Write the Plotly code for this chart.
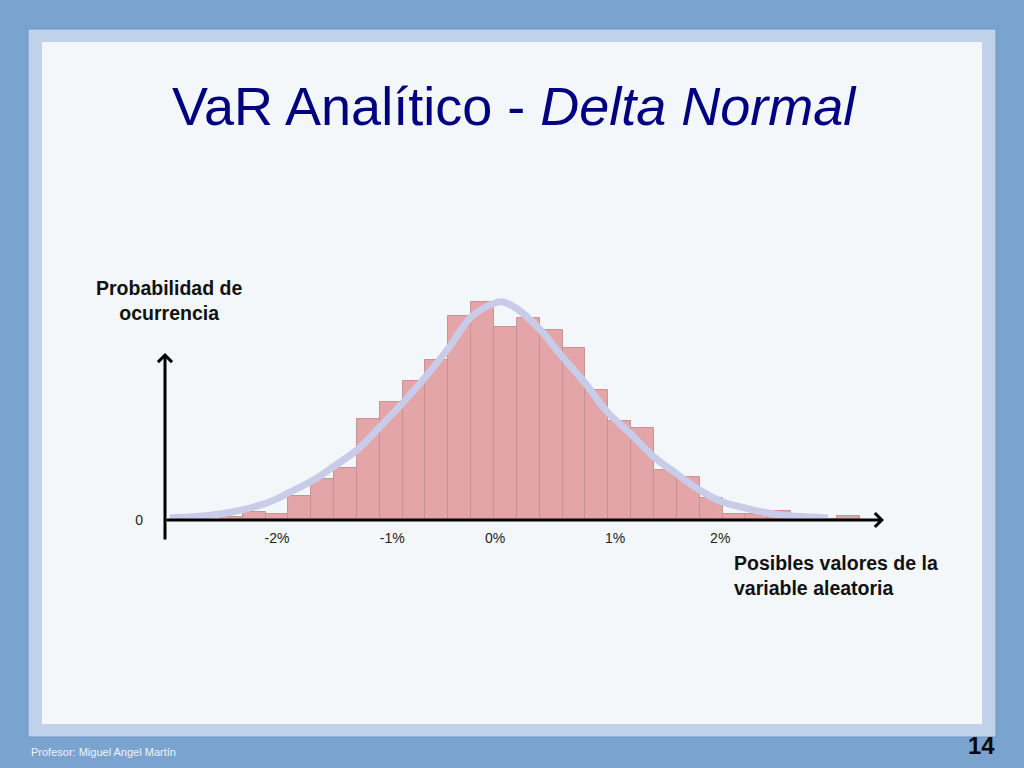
import plotly.graph_objects as go

# ---------------- data ----------------
bin_centers = [-2.3, -2.1, -1.9, -1.7, -1.5, -1.3, -1.1, -0.9, -0.7, -0.5,
               -0.3, -0.1, 0.1, 0.3, 0.5, 0.7, 0.9, 1.1, 1.3, 1.5,
               1.7, 1.9, 2.1, 2.3, 2.5, 2.7, 2.9, 3.1]
bin_heights = [3.3, 8.3, 5.7, 24.5, 41, 52, 101, 118, 139, 160,
               204, 218.3, 193.3, 201.7, 190, 171.7, 130, 99, 92.3, 50,
               42.7, 21.7, 6, 6, 9.5, 2, 1, 4]

curve_x = [-2.84, -2.40, -1.99, -1.80, -1.58, -1.41, -1.20, -1.00, -0.80, -0.60,
           -0.39, -0.20, 0.01, 0.08, 0.19, 0.39, 0.60, 0.79, 1.00, 1.19,
           1.40, 1.59, 1.80, 2.00, 2.20, 2.40, 2.61, 2.79, 2.92]
curve_y = [2, 6, 17, 27, 40, 53, 70, 93, 117, 143,
           173, 203, 217, 218, 212, 192, 163, 138, 107, 87,
           63, 47, 30, 18, 12, 7, 4, 3, 2]

tick_vals = [-1.90, -0.89, 0.01, 1.06, 1.98]
tick_text = ["-2%", "-1%", "0%", "1%", "2%"]

W, H = 1024, 768
H_REQ = 776


def px(x):
    return x / W


def py(y):
    return 1 - y / H


fig = go.Figure()

fig.add_trace(go.Bar(
    x=bin_centers, y=bin_heights, width=0.2,
    marker=dict(color="#E3A5A7", line=dict(color="#C99294", width=1)),
    hoverinfo="skip", showlegend=False,
))
fig.add_trace(go.Scatter(
    x=curve_x, y=curve_y, mode="lines",
    line=dict(color="#C9CCE9", width=7, shape="spline", smoothing=1.0),
    hoverinfo="skip", showlegend=False,
))

font_main = "Liberation Sans, Arial, sans-serif"

shapes = [
    # light frame
    dict(type="rect", xref="paper", yref="paper", layer="below",
         x0=px(28), x1=px(996), y0=py(737), y1=py(29),
         fillcolor="#C0D3EA", line=dict(color="#6E95C4", width=1)),
    # inner panel
    dict(type="rect", xref="paper", yref="paper", layer="below",
         x0=px(42), x1=px(982), y0=py(724), y1=py(42),
         fillcolor="#F3F7F9", line=dict(width=0)),
]

annotations = [
    dict(text="VaR Analítico - <i>Delta Normal</i>", xref="paper", yref="paper",
         x=px(514), y=py(106), xanchor="center", yanchor="middle", showarrow=False,
         font=dict(family=font_main, size=54, color="#000080")),
    dict(text="<b>Probabilidad de<br>ocurrencia</b>", xref="paper", yref="paper",
         x=px(169), y=py(301), xanchor="center", yanchor="middle", showarrow=False,
         align="center", font=dict(family=font_main, size=19.5, color="#111111")),
    dict(text="<b>Posibles valores de la<br>variable aleatoria</b>", xref="paper", yref="paper",
         x=px(732), y=py(575), xanchor="left", yanchor="middle", showarrow=False,
         align="left", font=dict(family=font_main, size=19.5, color="#111111")),
    dict(text="Profesor: Miguel Angel Martín", xref="paper", yref="paper",
         x=px(29), y=py(752), xanchor="left", yanchor="middle", showarrow=False,
         font=dict(family="Liberation Sans Narrow, Arial Narrow, Liberation Sans, sans-serif",
                   size=11, color="#EEF3F9")),
    dict(text="<b>14</b>", xref="paper", yref="paper",
         x=px(981), y=py(745), xanchor="center", yanchor="middle", showarrow=False,
         font=dict(family=font_main, size=24, color="#0A0A0A")),
    # vertical axis with arrow
    dict(text="", xref="paper", yref="paper", x=px(165), y=py(353),
         axref="pixel", ayref="pixel", ax=0, ay=188, showarrow=True,
         arrowhead=4, arrowsize=0.9, arrowwidth=3, arrowcolor="#000000", standoff=0),
    # horizontal axis with arrow
    dict(text="", xref="paper", yref="paper", x=px(884), y=py(520),
         axref="pixel", ayref="pixel", ax=-719, ay=0, showarrow=True,
         arrowhead=4, arrowsize=0.9, arrowwidth=3, arrowcolor="#000000", standoff=0),
]

x_lo = (165 - 494) / 114.25
x_hi = (880 - 494) / 114.25

fig.update_layout(
    autosize=False,
    width=W, height=H_REQ,
    margin=dict(l=0, r=0, t=0, b=0, pad=0),
    paper_bgcolor="#7BA3D0",
    plot_bgcolor="rgba(0,0,0,0)",
    bargap=0,
    shapes=shapes,
    annotations=annotations,
    xaxis=dict(domain=[px(165), px(880)], range=[x_lo, x_hi],
               showgrid=False, zeroline=False, showline=False, ticks="",
               tickmode="array", tickvals=tick_vals, ticktext=tick_text,
               ticklabelstandoff=8,
               tickfont=dict(family=font_main, size=14, color="#222222"),
               fixedrange=True),
    yaxis=dict(domain=[py(520), py(298)], range=[0, 222],
               showgrid=False, zeroline=False, showline=False, ticks="",
               tickmode="array", tickvals=[0], ticktext=["0"],
               ticklabelstandoff=21,
               tickfont=dict(family=font_main, size=14, color="#222222"),
               fixedrange=True),
)

fig.write_html(
    "out.html",
    config={"displayModeBar": False, "responsive": False},
    post_script=(
        "document.documentElement.style.margin='0';"
        "document.documentElement.style.padding='0';"
        "document.documentElement.style.overflow='hidden';"
        "document.body.style.margin='0';"
        "document.body.style.padding='0';"
        "document.body.style.overflow='hidden';"
    ),
)
